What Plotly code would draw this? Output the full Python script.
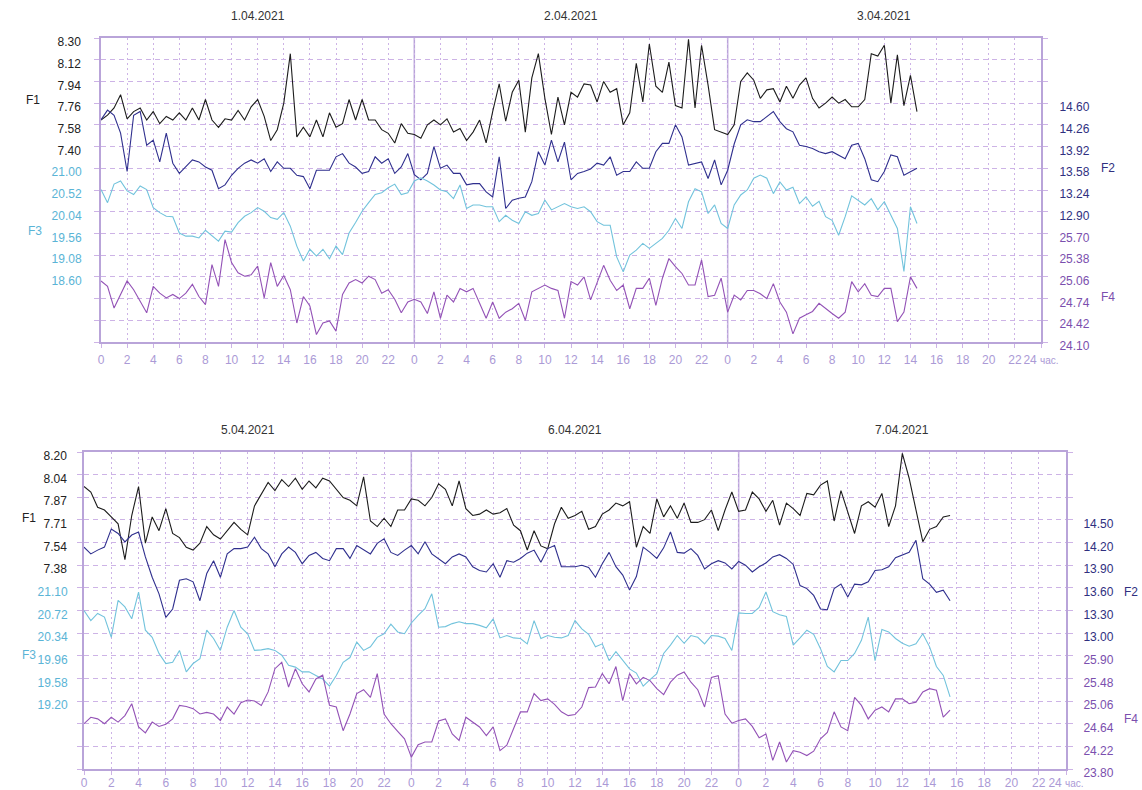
import plotly.graph_objects as go

# ---------------- data ----------------
STEP_H = 0.5          # sampling step of the series, hours
ROWS = 14             # number of grid rows in each panel
DAY_H = 24            # hours per day
N_DAYS = 3

# tick labels of the value scales (each occupies 6 consecutive grid rows)
TOP_F1_TICKS = [8.30, 8.12, 7.94, 7.76, 7.58, 7.40]
TOP_F3_TICKS = [21.00, 20.52, 20.04, 19.56, 19.08, 18.60]
TOP_F2_TICKS = [14.60, 14.26, 13.92, 13.58, 13.24, 12.90]
TOP_F4_TICKS = [25.70, 25.38, 25.06, 24.74, 24.42, 24.10]
BOT_F1_TICKS = [8.20, 8.04, 7.87, 7.71, 7.54, 7.38]
BOT_F3_TICKS = [21.10, 20.72, 20.34, 19.96, 19.58, 19.20]
BOT_F2_TICKS = [14.50, 14.20, 13.90, 13.60, 13.30, 13.00]
BOT_F4_TICKS = [25.90, 25.48, 25.06, 24.64, 24.22, 23.80]

DATES_TOP = ["1.04.2021", "2.04.2021", "3.04.2021"]
DATES_BOTTOM = ["5.04.2021", "6.04.2021", "7.04.2021"]
HOUR_TICKS = list(range(0, 73, 2))
HOUR_LABELS = [str(h % 24) for h in HOUR_TICKS[:-1]] + ["24 <span style='font-size:10px'>час.</span>"]

# ---- top panel (1.04 - 3.04), every 0.5 h from 0 h ----
TOP_F1 = [
    7.62, 7.66, 7.72, 7.83, 7.63, 7.69, 7.72, 7.62, 7.69, 7.59,
    7.65, 7.62, 7.68, 7.62, 7.72, 7.62, 7.79, 7.62, 7.56, 7.63,
    7.62, 7.70, 7.62, 7.73, 7.79, 7.65, 7.45, 7.54, 7.76, 8.17,
    7.48, 7.56, 7.48, 7.62, 7.48, 7.68, 7.56, 7.59, 7.79, 7.62,
    7.79, 7.62, 7.62, 7.54, 7.51, 7.43, 7.59, 7.51, 7.50,
    7.47, 7.58, 7.62, 7.58, 7.63, 7.52, 7.55, 7.45, 7.52, 7.62,
    7.43, 7.69, 7.92, 7.61, 7.85, 7.95, 7.52, 7.97, 8.17, 7.80,
    7.50, 7.81, 7.58, 7.85, 7.81, 7.92, 7.91, 7.77, 7.94, 7.85,
    7.88, 7.58, 7.68, 8.09, 7.77, 8.25, 7.90, 7.85, 8.10, 7.74,
    7.72, 8.29, 7.72, 8.24, 7.91, 7.54, 7.52, 7.50,
    7.58, 7.94, 8.01, 7.95, 7.80, 7.87, 7.88, 7.77, 7.90, 7.80,
    7.91, 7.97, 7.80, 7.72, 7.76, 7.81, 7.76, 7.79, 7.73, 7.73,
    7.79, 8.17, 8.15, 8.24, 7.76, 8.16, 7.74, 7.99, 7.69,
]
TOP_F2 = [
    14.34, 14.49, 14.41, 14.13, 13.53, 14.41, 14.47, 13.94, 14.02, 13.68,
    14.13, 13.66, 13.50, 13.60, 13.71, 13.68, 13.60, 13.55, 13.26, 13.32,
    13.47, 13.58, 13.66, 13.71, 13.66, 13.73, 13.53, 13.68, 13.58, 13.58,
    13.47, 13.45, 13.26, 13.55, 13.55, 13.55, 13.76, 13.81, 13.66, 13.60,
    13.50, 13.53, 13.76, 13.66, 13.73, 13.50, 13.60, 13.81, 13.48,
    13.40, 13.50, 13.92, 13.58, 13.63, 13.50, 13.50, 13.32, 13.34, 13.34,
    13.21, 13.13, 13.76, 12.95, 13.08, 13.11, 13.13, 13.37, 13.84, 13.63,
    14.02, 13.68, 13.99, 13.40, 13.50, 13.53, 13.57, 13.66, 13.63, 13.76,
    13.47, 13.53, 13.53, 13.68, 13.58, 13.58, 13.84, 13.97, 13.97, 14.26,
    14.07, 13.63, 13.66, 13.68, 13.42, 13.71, 13.32, 13.55,
    13.96, 14.26, 14.34, 14.31, 14.31, 14.39, 14.47, 14.31, 14.20, 14.15,
    13.94, 13.92, 13.89, 13.84, 13.81, 13.84, 13.79, 13.73, 13.94, 13.97,
    13.73, 13.40, 13.37, 13.53, 13.79, 13.76, 13.47, 13.53, 13.58,
]
TOP_F3 = [
    20.53, 20.24, 20.65, 20.72, 20.50, 20.42, 20.61, 20.53, 20.13, 20.02,
    19.94, 19.93, 19.57, 19.50, 19.50, 19.46, 19.63, 19.50, 19.39, 19.61,
    19.59, 19.80, 19.94, 20.02, 20.13, 20.05, 19.91, 19.87, 20.02, 19.72,
    19.28, 18.95, 19.21, 19.06, 19.21, 19.00, 19.28, 19.09, 19.57, 19.80,
    20.05, 20.24, 20.42, 20.46, 20.57, 20.65, 20.42, 20.46, 20.72,
    20.79, 20.72, 20.63, 20.52, 20.48, 20.33, 20.63, 20.11, 20.19, 20.19,
    20.15, 20.15, 19.82, 19.96, 19.85, 19.78, 20.04, 19.96, 20.00, 20.30,
    20.08, 20.15, 20.22, 20.15, 20.11, 20.15, 20.04, 19.82, 19.74, 19.74,
    19.04, 18.71, 19.08, 19.19, 19.34, 19.23, 19.34, 19.45, 19.63, 19.89,
    19.67, 20.26, 20.55, 20.48, 20.00, 20.19, 19.78, 19.67,
    20.19, 20.41, 20.52, 20.78, 20.85, 20.78, 20.44, 20.70, 20.52, 20.58,
    20.22, 20.37, 20.16, 20.27, 19.93, 19.85, 19.52, 19.93, 20.39, 20.28,
    20.19, 20.33, 20.08, 20.26, 19.96, 19.67, 18.72, 20.15, 19.78,
]
TOP_F4 = [
    25.00, 24.92, 24.60, 24.80, 25.00, 24.87, 24.69, 24.53, 24.92, 24.82,
    24.75, 24.80, 24.74, 24.82, 24.95, 24.77, 24.65, 25.24, 24.92, 25.61,
    25.27, 25.12, 25.07, 25.09, 25.22, 24.75, 25.27, 24.92, 25.08, 24.87,
    24.38, 24.77, 24.63, 24.21, 24.38, 24.41, 24.26, 24.80, 24.97, 25.02,
    24.97, 25.07, 25.02, 24.82, 24.87, 24.73, 24.53, 24.69, 24.73,
    24.69, 24.52, 24.84, 24.45, 24.79, 24.69, 24.89, 24.84, 24.89, 24.67,
    24.45, 24.69, 24.45, 24.54, 24.59, 24.67, 24.42, 24.84, 24.89, 24.94,
    24.89, 24.86, 24.45, 24.99, 24.94, 25.06, 24.72, 24.99, 25.23, 25.01,
    24.86, 24.94, 24.59, 24.89, 24.89, 25.04, 24.64, 25.04, 25.33, 25.21,
    25.11, 24.94, 24.94, 25.31, 24.77, 24.79, 25.04, 24.54,
    24.79, 24.72, 24.86, 24.86, 24.81, 24.74, 24.96, 24.69, 24.54, 24.22,
    24.45, 24.50, 24.55, 24.67, 24.59, 24.52, 24.45, 24.54, 24.99, 24.84,
    24.96, 24.79, 24.77, 24.89, 24.89, 24.40, 24.54, 25.06, 24.89,
]

# ---- bottom panel (5.04 - 7.04), every 0.5 h from 0 h ----
BOT_F1 = [
    7.95, 7.91, 7.80, 7.78, 7.73, 7.68, 7.42, 7.74, 7.95, 7.54,
    7.73, 7.63, 7.79, 7.61, 7.58, 7.51, 7.49, 7.54, 7.66, 7.60,
    7.57, 7.63, 7.69, 7.64, 7.60, 7.81, 7.90, 7.98, 7.92, 8.00,
    7.95, 8.01, 7.93, 7.99, 7.94, 8.01, 7.99, 7.93, 7.87, 7.85,
    7.81, 8.02, 7.70, 7.66, 7.72, 7.66, 7.78, 7.78, 7.86,
    7.85, 7.81, 7.87, 7.97, 7.93, 7.81, 7.99, 7.79, 7.74, 7.75,
    7.78, 7.75, 7.76, 7.79, 7.67, 7.63, 7.49, 7.63, 7.52, 7.50,
    7.68, 7.80, 7.72, 7.74, 7.77, 7.64, 7.66, 7.75, 7.78, 7.83,
    7.81, 7.84, 7.51, 7.66, 7.61, 7.86, 7.73, 7.81, 7.72, 7.83,
    7.69, 7.69, 7.71, 7.78, 7.63, 7.78, 7.91, 7.77,
    7.78, 7.91, 7.86, 7.77, 7.85, 7.67, 7.83, 7.79, 7.74, 7.90,
    7.89, 7.96, 7.99, 7.70, 7.92, 7.77, 7.61, 7.81, 7.84, 7.80,
    7.90, 7.66, 7.81, 8.19, 8.01, 7.78, 7.55, 7.64, 7.66, 7.73,
    7.74,
]
BOT_F2 = [
    14.14, 14.05, 14.10, 14.14, 14.38, 14.32, 14.21, 14.30, 14.34, 14.01,
    13.74, 13.52, 13.21, 13.32, 13.70, 13.72, 13.68, 13.43, 13.79, 13.96,
    13.74, 14.05, 14.12, 14.12, 14.14, 14.27, 14.12, 14.05, 13.88, 14.05,
    14.14, 14.07, 13.92, 14.03, 14.07, 13.99, 13.96, 14.12, 14.12, 13.99,
    14.16, 14.10, 14.05, 14.19, 14.25, 14.07, 14.03, 14.10, 14.16,
    14.05, 14.21, 14.05, 13.99, 13.92, 14.01, 14.05, 14.01, 13.88, 13.83,
    13.81, 13.92, 13.74, 13.96, 13.94, 13.99, 14.06, 14.10, 13.94, 14.12,
    14.16, 13.88, 13.88, 13.88, 13.90, 13.87, 13.74, 13.92, 14.07, 13.88,
    13.77, 13.57, 13.75, 14.14, 14.07, 13.99, 14.13, 14.34, 14.07, 14.06,
    14.12, 14.03, 13.85, 13.92, 13.96, 13.93, 13.85, 13.95,
    13.90, 13.81, 13.88, 13.93, 14.01, 14.04, 13.99, 13.91, 13.63, 13.59,
    13.50, 13.32, 13.31, 13.59, 13.65, 13.48, 13.65, 13.64, 13.68, 13.83,
    13.84, 13.88, 14.00, 14.04, 14.07, 14.23, 13.72, 13.65, 13.54, 13.57,
    13.43,
]
BOT_F3 = [
    20.72, 20.55, 20.67, 20.61, 20.27, 20.89, 20.78, 20.58, 21.03, 20.39,
    20.27, 20.00, 19.83, 19.85, 20.05, 19.69, 19.83, 19.91, 20.39, 20.25,
    20.05, 20.44, 20.72, 20.44, 20.33, 20.05, 20.06, 20.08, 20.05, 19.97,
    19.80, 19.77, 19.69, 19.69, 19.63, 19.57, 19.45, 19.63, 19.85, 19.93,
    20.19, 20.05, 20.11, 20.27, 20.33, 20.49, 20.36, 20.33, 20.51,
    20.64, 20.75, 21.00, 20.44, 20.45, 20.50, 20.53, 20.50, 20.50, 20.47,
    20.43, 20.58, 20.26, 20.30, 20.26, 20.25, 20.16, 20.55, 20.25, 20.30,
    20.27, 20.26, 20.30, 20.55, 20.41, 20.32, 20.11, 20.16, 19.88, 20.03,
    19.89, 19.74, 19.67, 19.45, 19.56, 19.66, 20.00, 20.14, 20.30, 20.17,
    20.30, 20.27, 20.16, 20.30, 20.29, 20.25, 20.05, 20.68,
    20.67, 20.67, 20.77, 21.03, 20.70, 20.65, 20.62, 20.14, 20.26, 20.39,
    20.32, 20.08, 19.78, 19.69, 19.88, 19.88, 20.00, 20.22, 20.61, 19.88,
    20.40, 20.36, 20.25, 20.17, 20.12, 20.16, 20.33, 20.11, 19.78, 19.63,
    19.27,
]
BOT_F4 = [
    24.64, 24.76, 24.73, 24.64, 24.76, 24.67, 24.79, 25.01, 24.58, 24.47,
    24.67, 24.59, 24.63, 24.73, 24.98, 24.96, 24.92, 24.82, 24.85, 24.82,
    24.70, 24.95, 24.82, 25.03, 25.08, 25.06, 24.98, 25.23, 25.66, 25.78,
    25.32, 25.66, 25.38, 25.23, 25.47, 25.54, 24.98, 24.95, 24.51, 24.82,
    25.20, 25.27, 25.13, 25.57, 24.82, 24.64, 24.50, 24.36, 24.02,
    24.25, 24.30, 24.30, 24.69, 24.73, 24.45, 24.33, 24.76, 24.67, 24.58,
    24.42, 24.58, 24.14, 24.24, 24.55, 24.86, 24.86, 25.20, 25.07, 25.10,
    25.00, 24.86, 24.79, 24.81, 24.95, 25.31, 25.32, 25.57, 25.38, 25.70,
    25.07, 25.57, 25.38, 25.50, 25.44, 25.29, 25.18, 25.41, 25.54, 25.60,
    25.41, 25.27, 24.95, 25.50, 25.53, 24.82, 24.65, 24.70,
    24.73, 24.59, 24.38, 24.45, 23.96, 24.30, 23.93, 24.14, 24.11, 24.05,
    24.13, 24.36, 24.48, 24.86, 24.58, 24.51, 25.13, 24.98, 24.73, 24.89,
    24.95, 24.86, 25.10, 25.10, 25.01, 25.04, 25.23, 25.29, 25.26, 24.76,
    24.89,
]

# ---------------- styling ----------------
W, H = 1142, 790
FONT = "Arial, Liberation Sans, sans-serif"
BORDER = "#b9a4d9"
GRID = "#cdb3e6"
XLAB = "#ab9ad6"
C_F1, C_F2, C_F3, C_F4 = "#1c1c1c", "#2f2f8e", "#72c3dc", "#9352b6"
L_F1, L_F2, L_F3, L_F4 = "#222222", "#30307f", "#5ab4d6", "#7b4fae"
LABEL_SHIFT = 4


def hours(n):
    return [i * STEP_H for i in range(n)]


def px_x(p):
    return p / W


def px_y(p):
    return 1 - p / H


def scale(ticks, first_row):
    step = (ticks[0] - ticks[-1]) / (len(ticks) - 1)
    top = ticks[0] + first_row * step
    return step, top, top - ROWS * step


def base_axis(ticks, domain, anchor, color, gap):
    """F1 scale: carries the horizontal grid of all 14 rows."""
    step, top, bottom = scale(ticks, 0)
    rows = [top - k * step for k in range(ROWS + 1)]
    text = [f"{t:.2f}" for t in ticks] + [""] * (ROWS + 1 - len(ticks))
    return dict(
        domain=domain, anchor=anchor, range=[bottom, top], automargin=False,
        tickmode="array", tickvals=rows, ticktext=text,
        showgrid=True, gridcolor=GRID, griddash="5px,4px", gridwidth=1,
        zeroline=False, showline=True, linecolor=BORDER, linewidth=1.5,
        mirror="ticks", ticks="outside", ticklen=5, tickcolor=GRID,
        ticklabelstandoff=gap - 5, ticklabelshift=LABEL_SHIFT,
        tickfont=dict(color=color, size=12, family=FONT), fixedrange=True,
    )


def value_axis(ticks, first_row, side, color, overlay, anchor, gap):
    step, top, bottom = scale(ticks, first_row)
    return dict(
        overlaying=overlay, anchor=anchor, side=side, range=[bottom, top],
        automargin=False,
        tickmode="array", tickvals=ticks, ticktext=[f"{t:.2f}" for t in ticks],
        showgrid=False, zeroline=False, showline=False,
        ticks="outside", ticklen=gap, tickcolor="rgba(0,0,0,0)",
        ticklabelshift=LABEL_SHIFT,
        tickfont=dict(color=color, size=12, family=FONT), fixedrange=True,
    )


def hour_axis(domain, anchor, standoff):
    return dict(
        domain=domain, anchor=anchor, range=[0, N_DAYS * DAY_H], automargin=False,
        tickmode="array", tickvals=HOUR_TICKS, ticktext=HOUR_LABELS, tickangle=0,
        showgrid=True, gridcolor=GRID, griddash="2px,3px", gridwidth=1,
        zeroline=False, showline=True, linecolor=BORDER, linewidth=1.5,
        mirror=True, ticks="outside", ticklen=4, tickcolor=GRID,
        ticklabelstandoff=standoff,
        tickfont=dict(color=XLAB, size=12, family=FONT), fixedrange=True,
    )


fig = go.Figure()

panels = [
    dict(x="x", vy=["y", "y3", "y4", "y5"], series=[TOP_F1, TOP_F2, TOP_F3, TOP_F4]),
    dict(x="x2", vy=["y2", "y6", "y7", "y8"], series=[BOT_F1, BOT_F2, BOT_F3, BOT_F4]),
]
colors = [C_F1, C_F2, C_F3, C_F4]
names = ["F1", "F2", "F3", "F4"]

for p in panels:
    for s, yax, c, nm in zip(p["series"], p["vy"], colors, names):
        fig.add_trace(go.Scatter(x=hours(len(s)), y=s, xaxis=p["x"], yaxis=yax,
                                 mode="lines", name=nm,
                                 line=dict(color=c, width=1.1),
                                 showlegend=False, hoverinfo="skip"))

top_x = [px_x(101), px_x(1041)]
top_y = [px_y(342), px_y(38)]
bot_x = [px_x(84), px_x(1066)]
bot_y = [px_y(769), px_y(452)]

fig.update_layout(
    template="none",
    width=W, height=H, autosize=False,
    margin=dict(l=0, r=0, t=0, b=0, pad=0),
    paper_bgcolor="white", plot_bgcolor="white",
    font=dict(family=FONT, size=12, color="#222"),
    showlegend=False,
    xaxis=hour_axis(top_x, "y", 2),
    yaxis=base_axis(TOP_F1_TICKS, top_y, "x", L_F1, 16),
    yaxis3=value_axis(TOP_F2_TICKS, 3, "right", L_F2, "y", "x", 15),
    yaxis4=value_axis(TOP_F3_TICKS, 6, "left", L_F3, "y", "x", 16),
    yaxis5=value_axis(TOP_F4_TICKS, 9, "right", L_F4, "y", "x", 15),
    xaxis2=hour_axis(bot_x, "y2", -2),
    yaxis2=base_axis(BOT_F1_TICKS, bot_y, "x2", L_F1, 13),
    yaxis6=value_axis(BOT_F2_TICKS, 3, "right", L_F2, "y2", "x2", 14),
    yaxis7=value_axis(BOT_F3_TICKS, 6, "left", L_F3, "y2", "x2", 13),
    yaxis8=value_axis(BOT_F4_TICKS, 9, "right", L_F4, "y2", "x2", 14),
)

# day boundaries (solid) and date captions centred on each day
for xref, yref, dom_top, dates in [("x", "y", top_y[1], DATES_TOP),
                                   ("x2", "y2", bot_y[1], DATES_BOTTOM)]:
    for d in range(1, N_DAYS):
        fig.add_shape(type="line", xref=xref, yref=f"{yref} domain",
                      x0=d * DAY_H, x1=d * DAY_H, y0=0, y1=1,
                      line=dict(color=BORDER, width=1.5), layer="below")
    for d, label in enumerate(dates):
        fig.add_annotation(text=label, xref=xref, yref="paper",
                           x=d * DAY_H + DAY_H / 2, y=dom_top,
                           xanchor="center", yanchor="bottom", yshift=13,
                           showarrow=False,
                           font=dict(size=12, color="#333333", family=FONT))

# series name labels beside the scales
name_labels = [
    ("F1", 33, 100, L_F1), ("F3", 35, 231, L_F3),
    ("F2", 1108, 168, L_F2), ("F4", 1108, 297, L_F4),
    ("F1", 29, 518, L_F1), ("F3", 29, 655, L_F3),
    ("F2", 1131, 592, L_F2), ("F4", 1131, 719, L_F4),
]
for txt, px, py, col in name_labels:
    fig.add_annotation(text=txt, x=px_x(px), y=px_y(py), xref="paper", yref="paper",
                       showarrow=False, xanchor="center", yanchor="middle",
                       font=dict(size=12, color=col, family=FONT))

# the page itself gets no default margin, so the figure fills the window exactly
fig.write_html("out.html", config={"displayModeBar": False},
               post_script="document.body.style.margin='0';")
